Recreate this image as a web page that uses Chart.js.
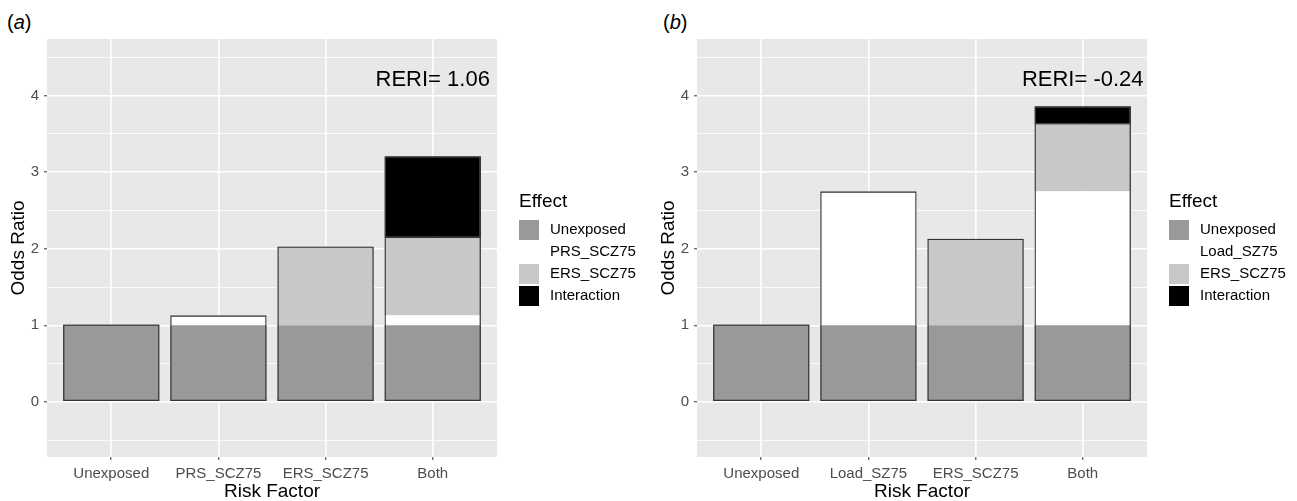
<!DOCTYPE html>
<html>
<head>
<meta charset="utf-8">
<script src="https://cdn.jsdelivr.net/npm/chart.js@4.4.1/dist/chart.umd.min.js"></script>
<style>
  body { margin: 0; background: #fff; width: 1297px; height: 501px; position: relative; overflow: hidden; font-family: "Liberation Sans", Arial, sans-serif; }
  canvas { position: absolute; top: 0; }
  .tag { position: absolute; top: 11px; font-size: 20px; color: #000; }
</style>
</head>
<body>
<div class="tag" style="left:7px">(<i>a</i>)</div>
<div class="tag" style="left:663px">(<i>b</i>)</div>
<canvas id="chart-a" width="650" height="501" style="left:0"></canvas>
<canvas id="chart-b" width="647" height="501" style="left:650px"></canvas>
<script>
// panel (a)
var categoriesA = ['Unexposed', 'PRS_SCZ75', 'ERS_SCZ75', 'Both'];
var effectsA = ['Unexposed', 'PRS_SCZ75', 'ERS_SCZ75', 'Interaction'];
var unexposedA = [1.01, 1, 1, 1];
var prsA = [null, 0.13, null, 0.13];
var ersA = [null, null, 1.03, 1.01];
var interactionA = [null, null, null, 1.07];
var reriA = 'RERI= 1.06';

// panel (b)
var categoriesB = ['Unexposed', 'Load_SZ75', 'ERS_SCZ75', 'Both'];
var effectsB = ['Unexposed', 'Load_SZ75', 'ERS_SCZ75', 'Interaction'];
var unexposedB = [1.01, 1, 1, 1];
var loadB = [null, 1.75, null, 1.75];
var ersB = [null, null, 1.13, 0.87];
var interactionB = [null, null, null, 0.24];
var reriB = 'RERI= -0.24';

var yTicks = [-0.5, 0, 0.5, 1, 1.5, 2, 2.5, 3, 3.5, 4, 4.5];
var effectColors = ['#999999', '#ffffff', '#c8c8c8', '#000000'];

Chart.defaults.font.family = '"Liberation Sans", Arial, sans-serif';

function points(values) {
    return values.map(function(v, i) { return { x: i + 1, y: v }; });
}

function totals(series) {
    return series[0].map(function(_, i) {
        var s = 0;
        series.forEach(function(arr) { s += arr[i] || 0; });
        return s;
    });
}

// grey panel behind the bars
var panelBg = {
    id: 'panelBg',
    beforeDraw: function(chart) {
        var a = chart.chartArea, ctx = chart.ctx;
        ctx.save();
        ctx.fillStyle = '#e8e8e8';
        ctx.fillRect(a.left, a.top, a.right - a.left, a.bottom - a.top);
        ctx.restore();
    }
};

// RERI note and the "Effect" legend
var extras = {
    id: 'extras',
    afterDraw: function(chart, args, opts) {
        var ctx = chart.ctx;
        ctx.save();
        ctx.fillStyle = '#000';
        ctx.font = '22px "Liberation Sans", Arial, sans-serif';
        ctx.textAlign = 'center';
        ctx.textBaseline = 'middle';
        ctx.fillText(opts.note, chart.scales.x.getPixelForValue(4), chart.scales.y.getPixelForValue(4.21));

        var lx = chart.chartArea.right + 22;
        ctx.textAlign = 'left';
        ctx.font = '19px "Liberation Sans", Arial, sans-serif';
        ctx.fillText('Effect', lx, 202);
        ctx.font = '15px "Liberation Sans", Arial, sans-serif';
        chart.data.datasets.slice(0, 4).forEach(function(ds, i) {
            var y0 = 220 + i * 22;
            ctx.fillStyle = ds.backgroundColor;
            ctx.fillRect(lx, y0, 20, 20);
            ctx.fillStyle = '#000';
            ctx.fillText(ds.label, lx + 31, y0 + 10);
        });
        ctx.restore();
    }
};

function makeChart(id, categories, effects, series, note) {
    var ctx = document.getElementById(id).getContext('2d');
    var datasets = series.map(function(values, i) {
        return {
            label: effects[i],
            data: points(values),
            backgroundColor: effectColors[i],
            borderColor: '#333',
            borderWidth: i === 3 ? 1.2 : 0,
            borderSkipped: false,
            stack: 'effect'
        };
    });
    // outline of each whole bar
    datasets.push({
        label: 'total',
        data: points(totals(series)),
        backgroundColor: 'rgba(0,0,0,0)',
        borderColor: '#333',
        borderWidth: 1.3,
        borderSkipped: false,
        stack: 'outline',
        grouped: false,
        order: -1
    });

    return new Chart(ctx, {
        type: 'bar',
        data: { datasets: datasets },
        plugins: [panelBg, extras],
        options: {
            responsive: false,
            animation: false,
            devicePixelRatio: 1,
            layout: { padding: { top: 39, right: ctx.canvas.width - 497, left: 0, bottom: 0 } },
            datasets: { bar: { categoryPercentage: 1, barPercentage: 0.9 } },
            plugins: {
                legend: { display: false },
                tooltip: { enabled: false },
                extras: { note: note }
            },
            scales: {
                x: {
                    type: 'linear',
                    min: 0.4,
                    max: 4.6,
                    offset: false,
                    stacked: true,
                    afterBuildTicks: function(scale) {
                        scale.ticks = categories.map(function(_, i) { return { value: i + 1 }; });
                    },
                    afterFit: function(scale) { scale.height = 44; },
                    grid: { offset: false, color: '#ffffff', lineWidth: 1.6, tickColor: '#333', tickLength: 3, tickWidth: 1 },
                    border: { display: false },
                    ticks: {
                        autoSkip: false,
                        maxRotation: 0,
                        padding: 5,
                        color: '#4d4d4d',
                        font: { size: 15 },
                        callback: function(value) { return categories[value - 1]; }
                    },
                    title: {
                        display: true,
                        text: 'Risk Factor',
                        color: '#000',
                        font: { size: 19, lineHeight: 1 },
                        padding: { top: 0, bottom: 0 }
                    }
                },
                y: {
                    min: -0.72,
                    max: 4.74,
                    stacked: true,
                    afterBuildTicks: function(scale) {
                        scale.ticks = yTicks.map(function(v) { return { value: v }; });
                    },
                    afterFit: function(scale) { scale.width = 47; },
                    grid: {
                        color: '#ffffff',
                        lineWidth: function(c) { return c.tick && Number.isInteger(c.tick.value) ? 1.6 : 0.8; },
                        tickColor: function(c) { return c.tick && Number.isInteger(c.tick.value) ? '#333' : 'rgba(0,0,0,0)'; },
                        tickLength: 3,
                        tickWidth: 1
                    },
                    border: { display: false },
                    ticks: {
                        autoSkip: false,
                        padding: 5,
                        color: '#4d4d4d',
                        font: { size: 15 },
                        callback: function(value) { return Number.isInteger(value) ? value : ''; }
                    },
                    title: {
                        display: true,
                        text: 'Odds Ratio',
                        color: '#000',
                        font: { size: 19, lineHeight: 1 },
                        padding: { top: 9, bottom: 0 }
                    }
                }
            }
        }
    });
}

makeChart('chart-a', categoriesA, effectsA, [unexposedA, prsA, ersA, interactionA], reriA);
makeChart('chart-b', categoriesB, effectsB, [unexposedB, loadB, ersB, interactionB], reriB);
</script>
</body>
</html>
